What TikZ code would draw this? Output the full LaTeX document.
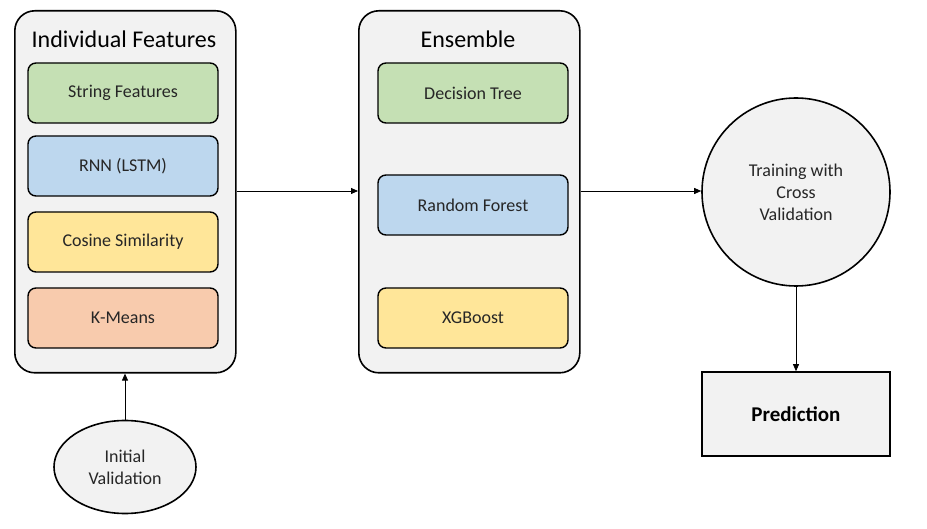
\documentclass[tikz,border=0pt]{standalone}
\usepackage{fontspec}
\setmainfont{Carlito}
\usetikzlibrary{arrows.meta,shapes.geometric}
\definecolor{cont}{HTML}{F2F2F2}
\definecolor{cgreen}{HTML}{C5E0B4}
\definecolor{cblue}{HTML}{BDD7EE}
\definecolor{cyellow}{HTML}{FFE699}
\definecolor{corange}{HTML}{F8CBAD}
\definecolor{ctext}{HTML}{262626}
\tikzset{
  container/.style={draw=black, line width=1.6pt, fill=cont, rounded corners=20pt, minimum width=221pt, minimum height=362pt, anchor=north west, inner sep=0pt},
  inner/.style={draw=black, line width=1.4pt, rounded corners=8pt, minimum width=190pt, minimum height=60pt, inner sep=0pt, font=\fontsize{18}{21}\selectfont, text=ctext},
  title/.style={font=\fontsize{24}{28}\selectfont, text=black},
  conn/.style={line width=0.8pt, -{Triangle[length=7pt,width=6pt]}},
}
\begin{document}
\begin{tikzpicture}[x=1pt,y=-1pt]
\useasboundingbox (0,0) rectangle (927,529);
% left container
\node[container] (ind) at (14,10) {};
\node[title] (indt) at (124,39) {Individual Features};
\node[inner, fill=cgreen] (sf) at (123,93) {String Features};
\node[inner, fill=cblue] (rnn) at (123,166) {RNN (LSTM)};
\node[inner, fill=cyellow] (cos) at (123,242) {Cosine Similarity};
\node[inner, fill=corange] (km) at (123,318) {K-Means};
% middle container
\node[container] (ens) at (358,10) {};
\node[title] (enst) at (468,39) {Ensemble};
\node[inner, fill=cgreen] (dt) at (473,93) {Decision Tree};
\node[inner, fill=cblue] (rf) at (473,205) {Random Forest};
\node[inner, fill=cyellow] (xgb) at (473,318) {XGBoost};
% circle
\node[circle, draw=black, line width=1.6pt, fill=cont, minimum size=188pt, inner sep=0pt, align=center, font=\fontsize{18}{22}\selectfont, text=ctext] (tr) at (796,192) {Training with\\Cross\\Validation};
% prediction
\node[rectangle, draw=black, line width=1.6pt, fill=cont, minimum width=188pt, minimum height=84pt, inner sep=0pt, font=\bfseries\fontsize{21}{24}\selectfont] (pred) at (796,414) {Prediction};
% ellipse
\node[ellipse, draw=black, line width=1.6pt, fill=cont, minimum width=142pt, minimum height=93pt, inner sep=0pt, align=center, font=\fontsize{18}{22}\selectfont, text=ctext] (iv) at (125,467) {Initial\\Validation};
% connectors
\draw[conn] (ind.east |- 0,191) -- (ens.west |- 0,191);
\draw[conn] (ens.east |- 0,191) -- (tr.west |- 0,191);
\draw[conn] (tr.south) -- (pred.north);
\draw[conn] (iv.north) -- (iv.north |- ind.south);
\end{tikzpicture}
\end{document}
